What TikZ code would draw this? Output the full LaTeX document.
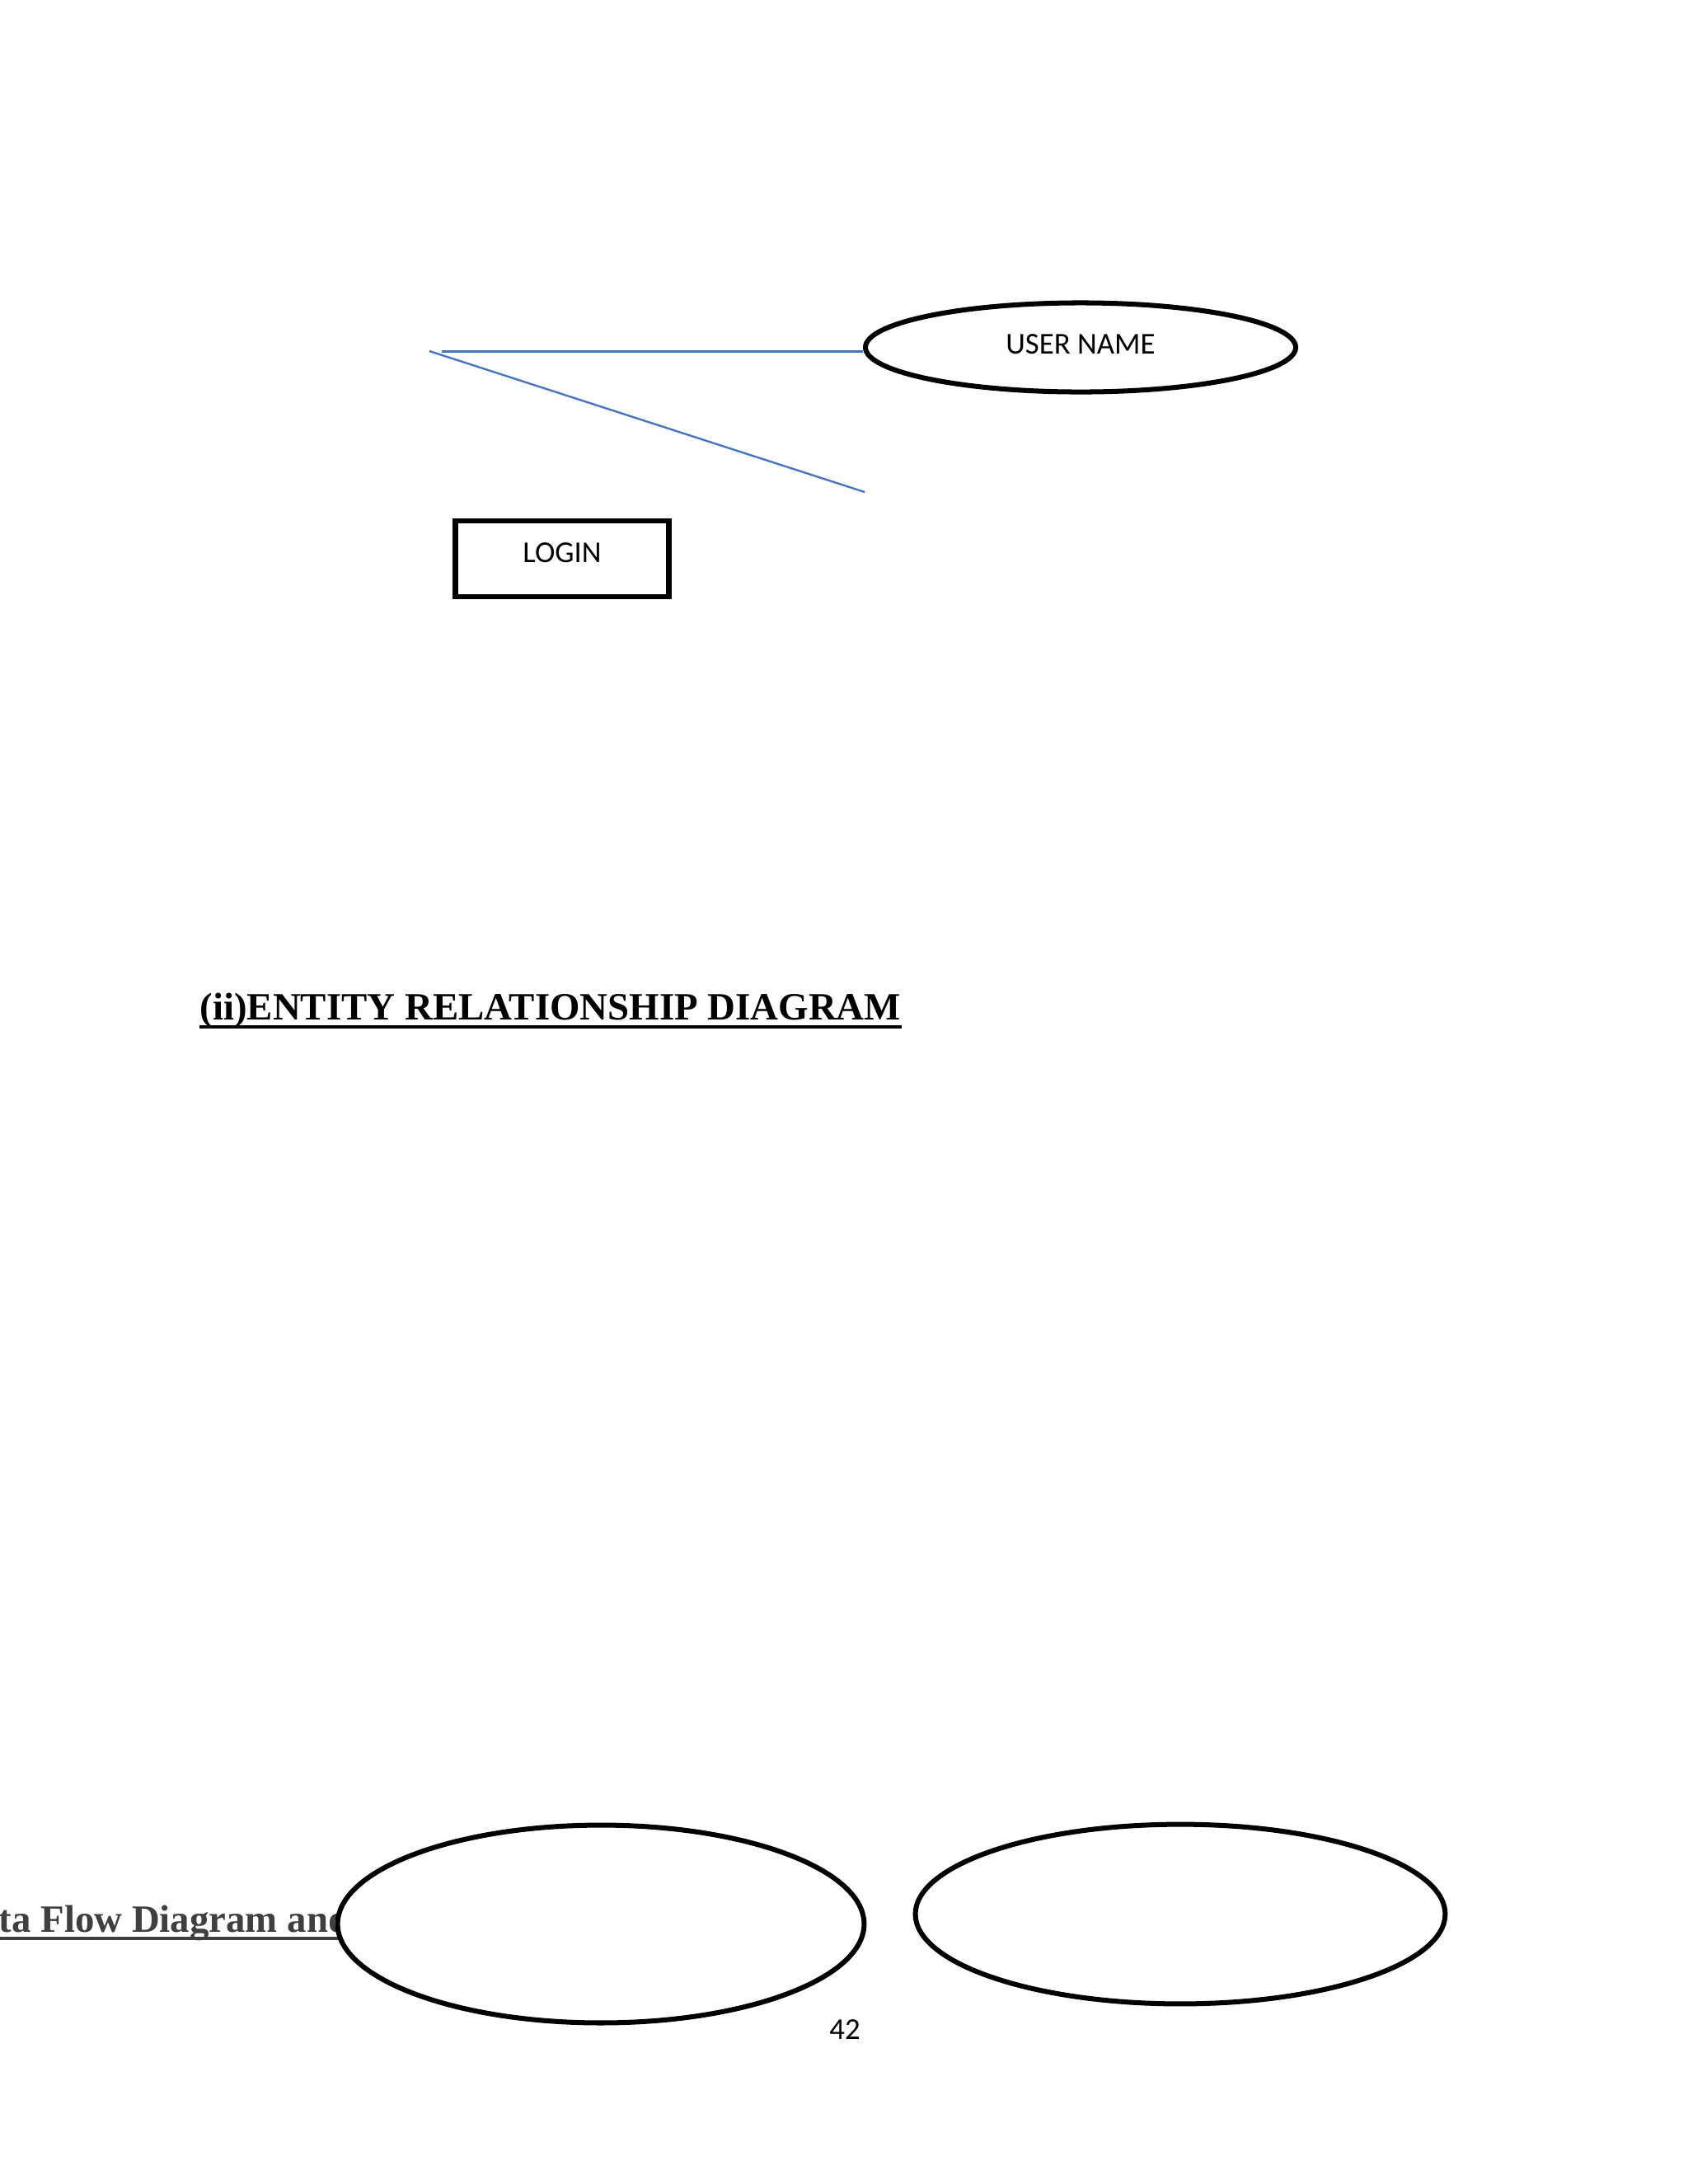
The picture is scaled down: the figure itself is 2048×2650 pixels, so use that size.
\documentclass[tikz,border=0pt]{standalone}
\usepackage{fontspec}
\setmainfont{Liberation Serif}
\newfontfamily\calibri{Carlito}
\usetikzlibrary{shapes.geometric}
\definecolor{linkblue}{HTML}{4472C4}
\definecolor{headgray}{HTML}{3F3F3F}
\begin{document}
\begin{tikzpicture}[x=0.29883pt,y=-0.29883pt,
  attr/.style={ellipse, draw=black, line width=1.8pt, fill=white, inner sep=0pt},
  entity/.style={rectangle, draw=black, line width=1.9pt, fill=white, inner sep=0pt},
  link/.style={draw=linkblue, line width=0.7pt},
  lbl/.style={font=\calibri\fontsize{11}{13}\selectfont, text=black},
  heading/.style={font=\fontsize{14}{17}\selectfont\bfseries, inner sep=0pt, anchor=base west}]
\fill[white] (0,0) rectangle (2048,2650);
\useasboundingbox (0,0) rectangle (2048,2650);

% top part
\node[attr, lbl, minimum width=156pt, minimum height=32.3pt, text depth=2.4pt] (username) at (1311,421.5) {USER NAME};
\node[entity, lbl, minimum width=77.4pt, minimum height=27.5pt, text depth=4.2pt] (login) at (682,678) {LOGIN};
\coordinate (hstart) at (536,426.5);
\coordinate (dstart) at (521,426);
\coordinate (dend) at (1049,597);
\draw[link] (hstart) -- (hstart -| username.west);
\draw[link] (dstart) -- (dend);

% heading
\node[heading] (title) at (242,1237) {(ii)ENTITY RELATIONSHIP DIAGRAM};
\draw[line width=1pt] ([yshift=-2.7pt]title.base west) -- ([yshift=-2.7pt]title.base east);

% bottom part
\node[heading, text=headgray] (dfd) at (-2,2344) {ta Flow Diagram and};
\draw[headgray, line width=1.1pt] ([yshift=-2.4pt]dfd.base west) -- ([yshift=-2.4pt]dfd.base east);
\node[attr, minimum width=190.9pt, minimum height=71.7pt] (leftell) at (729,2334.5) {};
\node[attr, minimum width=192.1pt, minimum height=65.1pt] (rightell) at (1432,2322.5) {};
\node[lbl] (pagenum) at (1025,2463) {42};
\end{tikzpicture}
\end{document}
